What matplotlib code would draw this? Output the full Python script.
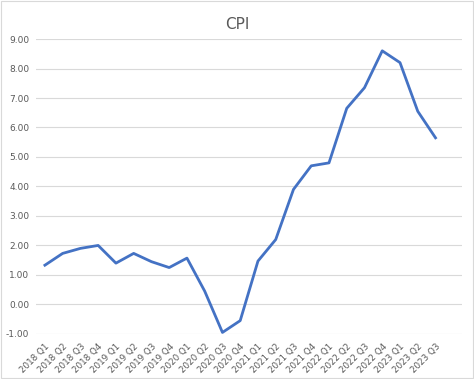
import matplotlib.pyplot as plt

quarters = ['2018 Q1', '2018 Q2', '2018 Q3', '2018 Q4', '2019 Q1', '2019 Q2', '2019 Q3', '2019 Q4',
            '2020 Q1', '2020 Q2', '2020 Q3', '2020 Q4', '2021 Q1', '2021 Q2', '2021 Q3', '2021 Q4',
            '2022 Q1', '2022 Q2', '2022 Q3', '2022 Q4', '2023 Q1', '2023 Q2', '2023 Q3']
cpi = [1.33, 1.73, 1.90, 2.00, 1.40, 1.73, 1.45, 1.25,
       1.57, 0.45, -0.95, -0.55, 1.47, 2.20, 3.90, 4.70,
       4.80, 6.65, 7.35, 8.60, 8.20, 6.55, 5.65]
yticks = [-1, 0, 1, 2, 3, 4, 5, 6, 7, 8, 9]

fig = plt.figure(figsize=(4.74, 3.79), dpi=100)
ax = fig.add_axes([0.076, 0.119, 0.899, 0.778])

x = list(range(len(quarters)))
ax.plot(x, cpi, color='#4472C4', linewidth=2.0, solid_joinstyle='round')

ax.set_xlim(-0.5, len(quarters) + 0.5)
ax.set_ylim(-1, 9)
ax.set_yticks(yticks)
ax.set_yticklabels(['%.2f' % v for v in yticks], fontsize=6.5, color='#595959')
ax.set_xticks(x)
ax.set_xticklabels(quarters, rotation=45, ha='right', rotation_mode='anchor', fontsize=6.3, color='#595959')
ax.tick_params(axis='y', length=0, pad=5)
ax.tick_params(axis='x', length=0, pad=6)
ax.grid(axis='y', color='#D9D9D9', linewidth=0.8)
ax.set_axisbelow(True)
for s in ax.spines.values():
    s.set_visible(False)

fig.suptitle('CPI', y=0.955, fontsize=11, color='#595959')
fig.patches.append(plt.Rectangle((0.002, 0.003), 0.996, 0.994, transform=fig.transFigure,
                                 fill=False, edgecolor='#D9D9D9', linewidth=0.8))

fig.savefig('out.png', dpi=100)
